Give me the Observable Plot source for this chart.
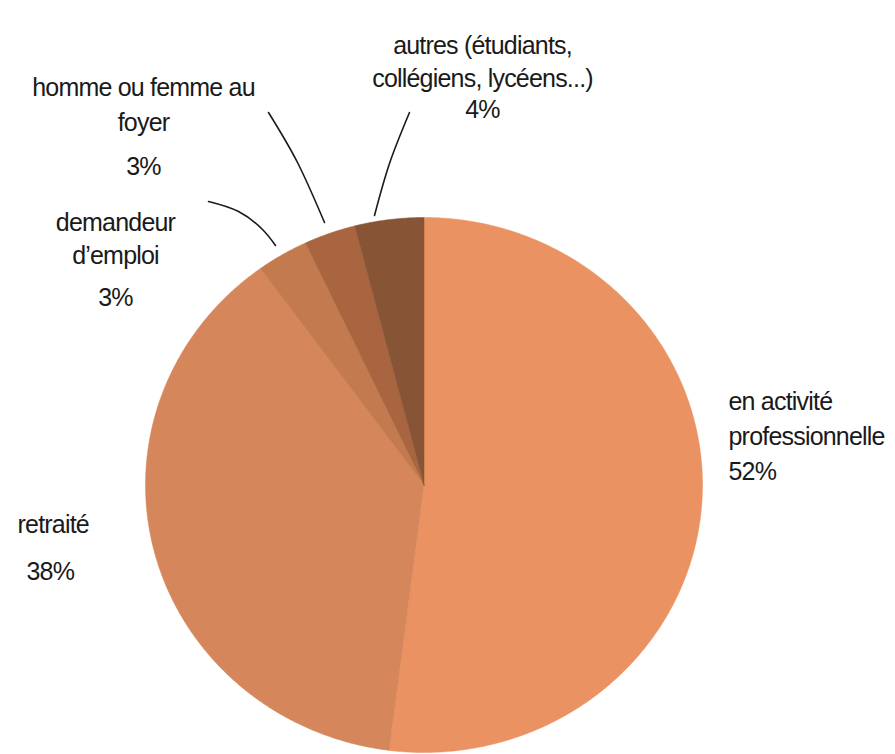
<!DOCTYPE html>
<html>
<head>
<meta charset="utf-8">
<script src="https://cdn.jsdelivr.net/npm/d3@7"></script>
<script src="https://cdn.jsdelivr.net/npm/@observablehq/plot@0.6"></script>
<style>
  html, body { margin: 0; padding: 0; background: #fff; }
  #chart svg { display: block; }
  #chart svg text { letter-spacing: -0.8px; }
</style>
</head>
<body>
<div id="chart"></div>
<script>
// ---- data ----
const categories = [
  "en activité professionnelle",
  "retraité",
  "demandeur d’emploi",
  "homme ou femme au foyer",
  "autres (étudiants, collégiens, lycéens...)"
];
const values = [52, 38, 3, 3, 4];
const labelLines = [
  ["en activité", "professionnelle"],
  ["retraité"],
  ["demandeur", "d’emploi"],
  ["homme ou femme au", "foyer"],
  ["autres (étudiants,", "collégiens, lycéens...)"]
];
const colors = ["#EB9262", "#D5865A", "#C47A4F", "#A8653F", "#875436"];

// ---- layout (pixels) ----
const W = 895, H = 754;
const pie = {cx: 423.5, cy: 484.5, rx: 278.5, ry: 267.5};
// label line positions: [x, y] per line (name lines then pct line), and anchor
const labelLayout = [
  {anchor: "start",  pos: [[728, 401], [728, 436], [728, 471]]},
  {anchor: "start",  pos: [[17, 524], [26, 571]]},
  {anchor: "middle", pos: [[115, 222], [115, 255], [115, 297]]},
  {anchor: "middle", pos: [[143, 87], [143, 122], [143, 166]]},
  {anchor: "middle", pos: [[482, 45], [482, 78], [482, 109]]}
];
const leaders = [
  {cat: 2, pts: [[208, 201], [238, 211], [262, 229], [275, 245]]},
  {cat: 3, pts: [[268, 112], [297, 162], [324, 222]]},
  {cat: 4, pts: [[409, 112], [389, 163], [374, 215]]}
];

// unit conversions (pixel -> scale domain)
const ux = px => (px - pie.cx) / pie.rx;
const uy = py => (pie.cy - py) / pie.ry;

// ---- pie geometry from data ----
const arcs = d3.pie().sort(null).startAngle(0).endAngle(2 * Math.PI)(values);
const slicePts = [];
arcs.forEach((a, i) => {
  const name = categories[i];
  slicePts.push({name, x: 0, y: 0});
  const n = Math.max(2, Math.ceil((a.endAngle - a.startAngle) / (Math.PI / 360)));
  for (let k = 0; k <= n; k++) {
    const t = a.startAngle + (a.endAngle - a.startAngle) * k / n;
    slicePts.push({name, x: Math.sin(t), y: Math.cos(t)});
  }
  slicePts.push({name, x: 0, y: 0});
});

// ---- labels ----
const labelRows = [];
labelLines.forEach((lines, i) => {
  const all = [...lines, values[i] + "%"];
  all.forEach((txt, j) => {
    const [px, py] = labelLayout[i].pos[j];
    labelRows.push({text: txt, x: ux(px), y: uy(py), anchor: labelLayout[i].anchor});
  });
});
const leaderRows = [];
leaders.forEach(l => l.pts.forEach(([px, py]) => leaderRows.push({id: categories[l.cat], x: ux(px), y: uy(py)})));

const font = "'Liberation Sans', Arial, Helvetica, sans-serif";

const chart = Plot.plot({
  width: W,
  height: H,
  margin: 0,
  style: {background: "#fff", fontFamily: font},
  x: {domain: [-1, 1], range: [pie.cx - pie.rx, pie.cx + pie.rx], axis: null},
  y: {domain: [-1, 1], range: [pie.cy + pie.ry, pie.cy - pie.ry], axis: null},
  color: {domain: categories, range: colors},
  marks: [
    Plot.line(slicePts, {x: "x", y: "y", z: "name", fill: "name", stroke: "name", strokeWidth: 0.5}),
    Plot.line(leaderRows, {x: "x", y: "y", z: "id", curve: "natural", stroke: "#1a1a1a", strokeWidth: 1.6}),
    Plot.text(labelRows.filter(d => d.anchor === "start"), {x: "x", y: "y", text: "text", textAnchor: "start", fontSize: 25, fill: "#1a1a1a"}),
    Plot.text(labelRows.filter(d => d.anchor === "middle"), {x: "x", y: "y", text: "text", textAnchor: "middle", fontSize: 25, fill: "#1a1a1a"})
  ]
});
document.getElementById("chart").appendChild(chart);
</script>
</body>
</html>
